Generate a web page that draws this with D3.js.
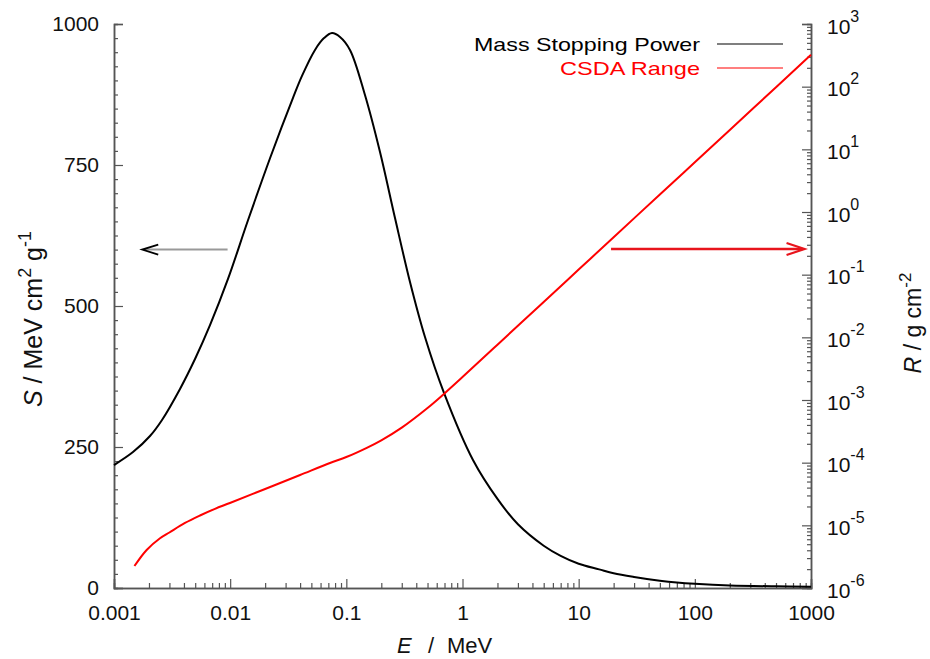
<!DOCTYPE html>
<html><head><meta charset="utf-8">
<script src="https://cdn.jsdelivr.net/npm/d3@7"></script>
<style>
body{margin:0;background:#fff;}
text{font-family:"Liberation Sans",Arial,Helvetica,sans-serif;}
</style></head>
<body><svg id="c" width="930" height="659"></svg>
<script>
// Mass stopping power S (MeV cm2/g) vs E (MeV)
const energyS = [0.001,0.001457,0.002041,0.00259,0.0037,0.004982,0.006705,0.009579,0.01424,0.02203,0.03474,0.04152,0.05373,0.06422,0.07526,0.0882,0.1075,0.1447,0.1949,0.2624,0.3532,0.4754,0.6929,1.231,2,3,5,7,10,15,20,30,50,70,100,200,500,1000];
const stopping = [218,241,269.5,298,353,406,466,548,652,762,869,908,954,975,984,977,954,874,773,656,542.6,445,346,227,158,113,75,57,43,33,26,19.5,13,9.8,7.5,4.6,3,2.4];
// CSDA range R (g/cm2) vs E (MeV)
const energyR = [0.0015,0.00191,0.00249,0.003,0.004085,0.0055,0.0074,0.00995,0.02,0.04,0.0723,0.1,0.15,0.2,0.3,0.5,0.7,1,2,5,10,20,50,100,200,500,1000];
const range = [2.24e-6,4.04e-6,6.21e-6,7.69e-6,1.09e-5,1.435e-5,1.835e-5,2.27e-5,3.80e-5,6.36e-5,9.88e-5,1.23e-4,1.727e-4,2.275e-4,3.627e-4,7.454e-4,1.274e-3,2.32e-3,7.63e-3,3.663e-2,0.1205,0.396,1.902,6.21,20.4,98.0,324];
const xTickValues = [0.001,0.01,0.1,1,10,100,1000];
const xTickLabels = ["0.001","0.01","0.1","1","10","100","1000"];
const sTickValues = [0,250,500,750,1000];
const rExponents = [-6,-5,-4,-3,-2,-1,0,1,2,3];
const legendNames = ["Mass Stopping Power","CSDA Range"];
const legendColors = ["#000000","#ff0000"];
// annotation arrows (data coordinates)
const arrowS = {from:0.0095, to:0.00175, value:600};
const arrowR = {from:19, to:880, value:0.257};

const svg = d3.select("#c");
const m = {l:114, r:811, t:24, b:588};
const axisColor = "#555";

const x = d3.scaleLog().domain([0.001,1000]).range([m.l,m.r]);
const yS = d3.scaleLinear().domain([0,1000]).range([m.b,m.t]);
const yR = d3.scaleLog().domain([1e-6,1e3]).range([m.b,m.t]);

function styleAxis(g){
  g.selectAll("path.domain").attr("stroke",axisColor).attr("stroke-width",1.5);
  g.selectAll(".tick line").attr("stroke",axisColor).attr("stroke-width",1.2);
}

// minor x ticks
const xMinor = [];
for(let d=-3; d<3; d++) for(let k=2;k<=9;k++) xMinor.push(k*Math.pow(10,d));
svg.append("g").attr("transform",`translate(0,${m.b})`)
  .call(d3.axisBottom(x).tickValues(xMinor).tickSize(-5).tickFormat(""))
  .call(styleAxis);
const gx = svg.append("g").attr("transform",`translate(0,${m.b})`)
  .call(d3.axisBottom(x).tickValues(xTickValues).tickSize(-9).tickPadding(17)
    .tickFormat((d,i)=>xTickLabels[i]))
  .call(styleAxis);
gx.selectAll("text").attr("font-size",21).attr("fill","#111").attr("font-family","Liberation Sans, Arial, sans-serif");

// left axis
const sMinor = d3.range(0,1001,25).filter(v=>v%250!==0);
svg.append("g").attr("transform",`translate(${m.l},0)`)
  .call(d3.axisLeft(yS).tickValues(sMinor).tickSize(-4).tickFormat(""))
  .call(styleAxis);
const gy = svg.append("g").attr("transform",`translate(${m.l},0)`)
  .call(d3.axisLeft(yS).tickValues(sTickValues).tickSize(-9).tickPadding(15).tickFormat(d3.format("d")))
  .call(styleAxis);
gy.selectAll("text").attr("font-size",21).attr("fill","#111").attr("font-family","Liberation Sans, Arial, sans-serif");

// right axis
const rMinor = [];
for(let e=-6;e<3;e++) for(let k=2;k<=9;k++) rMinor.push(k*Math.pow(10,e));
svg.append("g").attr("transform",`translate(${m.r},0)`)
  .call(d3.axisRight(yR).tickValues(rMinor).tickSize(-4).tickFormat(""))
  .call(styleAxis);
const gr = svg.append("g").attr("transform",`translate(${m.r},0)`)
  .call(d3.axisRight(yR).tickValues(rExponents.map(e=>Math.pow(10,e))).tickSize(-9).tickFormat(""))
  .call(styleAxis);
gr.selectAll(".tick").each(function(d,i){
  const t = d3.select(this).append("text").attr("x",16).attr("y",9)
    .attr("fill","#111").attr("font-size",21).attr("text-anchor","start");
  t.append("tspan").text("10");
  t.append("tspan").attr("dy",-12).attr("font-size",16).text(rExponents[i]);
});

// curves
const lineS = d3.line().x((d,i)=>x(energyS[i])).y(d=>yS(d)).curve(d3.curveCatmullRom.alpha(0.5));
svg.append("path").datum(stopping).attr("d",lineS).attr("fill","none")
  .attr("stroke","#000").attr("stroke-width",2);
const lineR = d3.line().x((d,i)=>x(energyR[i])).y(d=>yR(d)).curve(d3.curveCatmullRom.alpha(0.5));
svg.append("path").datum(range).attr("d",lineR).attr("fill","none")
  .attr("stroke","#ff0000").attr("stroke-width",2);

// arrows
const ya = yS(arrowS.value);
svg.append("line").attr("x1",x(arrowS.from)).attr("x2",x(arrowS.to)+2).attr("y1",ya).attr("y2",ya)
  .attr("stroke","#999").attr("stroke-width",2);
svg.append("path").attr("d",`M${x(arrowS.to)+16},${ya-5} L${x(arrowS.to)},${ya} L${x(arrowS.to)+16},${ya+5}`)
  .attr("fill","none").attr("stroke","#000").attr("stroke-width",1.8);
const yb = yR(arrowR.value);
svg.append("line").attr("x1",x(arrowR.from)).attr("x2",x(arrowR.to)-2).attr("y1",yb).attr("y2",yb)
  .attr("stroke","#e8141c").attr("stroke-width",2.5);
svg.append("path").attr("d",`M${x(arrowR.to)-18},${yb-6} L${x(arrowR.to)},${yb} L${x(arrowR.to)-18},${yb+6}`)
  .attr("fill","none").attr("stroke","#e8141c").attr("stroke-width",2.2);

// legend
const legendWidths = [226,140];
legendNames.forEach((n,i)=>{
  const ly = 44 + i*24;
  svg.append("text").attr("x",700).attr("y",ly+7).attr("text-anchor","end")
    .attr("font-size",19).attr("fill",legendColors[i])
    .attr("textLength",legendWidths[i]).attr("lengthAdjust","spacingAndGlyphs").text(n);
  svg.append("line").attr("x1",717).attr("x2",783).attr("y1",ly).attr("y2",ly)
    .attr("stroke",legendColors[i]).attr("stroke-width",1.2);
});

// axis titles
const xt = svg.append("text").attr("y",653).attr("font-size",22).attr("fill","#111");
xt.append("tspan").attr("x",397).attr("font-style","italic").text("E");
xt.append("tspan").attr("x",428).text("/");
xt.append("tspan").attr("x",447).text("MeV");

const lt = svg.append("text").attr("transform","translate(42,319) rotate(-90)")
  .attr("text-anchor","middle").attr("font-size",25).attr("fill","#111");
lt.append("tspan").attr("font-style","italic").text("S");
lt.append("tspan").text("  /  MeV cm");
lt.append("tspan").attr("dy",-11).attr("font-size",18).text("2");
lt.append("tspan").attr("dy",11).text(" g");
lt.append("tspan").attr("dy",-11).attr("font-size",18).text("-1");

const rt = svg.append("text").attr("transform","translate(921,323) rotate(-90)")
  .attr("text-anchor","middle").attr("font-size",23).attr("fill","#111");
rt.append("tspan").attr("font-style","italic").text("R");
rt.append("tspan").text("  /  g cm");
rt.append("tspan").attr("dy",-10).attr("font-size",17).text("-2");
</script></body></html>
